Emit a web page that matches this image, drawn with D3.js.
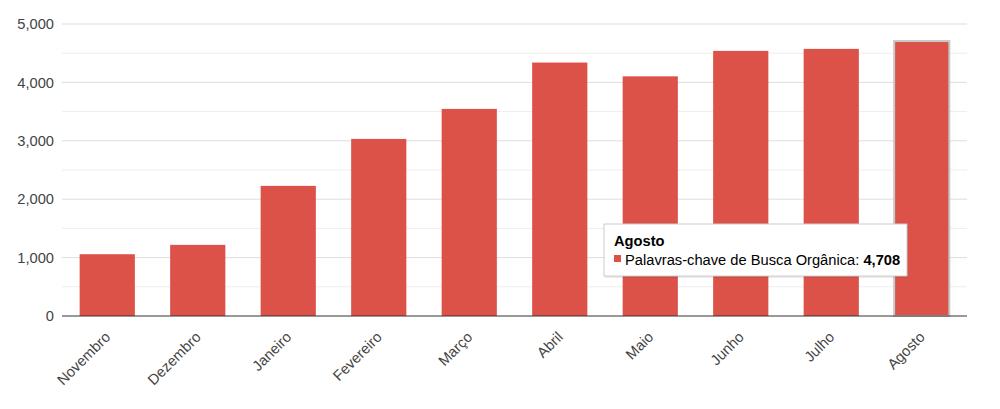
<!DOCTYPE html>
<html><head><meta charset="utf-8">
<script src="https://cdn.jsdelivr.net/npm/d3@7"></script>
<style>
body{margin:0;background:#fff;font-family:"Liberation Sans",Arial,sans-serif;}
</style></head>
<body><svg id="c" width="1000" height="409"></svg>
<script>
const categories = ["Novembro","Dezembro","Janeiro","Fevereiro","Março","Abril","Maio","Junho","Julho","Agosto"];
const values = [1058, 1218, 2228, 3032, 3546, 4340, 4104, 4540, 4574, 4708];
const yTicks = [0, 1000, 2000, 3000, 4000, 5000];
const minorTicks = [500, 1500, 2500, 3500, 4500];
const seriesName = "Palavras-chave de Busca Orgânica";
const highlighted = "Agosto";

const svg = d3.select("#c");
const m = {l:62, r:33, t:24, b:93};
const W = 1000, H = 409;
const FS = 14.7;
const x = d3.scaleBand().domain(categories).range([m.l, W - m.r]).paddingInner(0.39).paddingOuter(0.195);
const y = d3.scaleLinear().domain([0, 5000]).range([H - m.b, m.t]);
const color = "#dc5249";

svg.append("g").selectAll("line.minor").data(minorTicks).join("line")
  .attr("x1", m.l).attr("x2", W - m.r).attr("y1", d => y(d)).attr("y2", d => y(d))
  .attr("stroke", "#eeeeee").attr("stroke-width", 1);
svg.append("g").selectAll("line.major").data(yTicks.filter(d=>d>0)).join("line")
  .attr("x1", m.l).attr("x2", W - m.r).attr("y1", d => y(d)).attr("y2", d => y(d))
  .attr("stroke", "#dddddd").attr("stroke-width", 1);

const yAxis = d3.axisLeft(y).tickValues(yTicks).tickSize(0).tickPadding(8).tickFormat(d3.format(","));
const ga = svg.append("g").attr("transform", `translate(${m.l},0)`).call(yAxis);
ga.select(".domain").remove();
ga.selectAll("text").attr("font-size", FS).attr("fill", "#444").attr("font-family", "Liberation Sans, Arial, sans-serif");

svg.append("g").selectAll("rect").data(categories).join("rect")
  .attr("x", d => x(d)).attr("width", x.bandwidth())
  .attr("y", (d,i) => y(values[i])).attr("height", (d,i) => y(0) - y(values[i]))
  .attr("fill", color)
  .attr("stroke", d => d === highlighted ? "#c8c8c8" : "none")
  .attr("stroke-width", d => d === highlighted ? 2 : 0);

svg.append("line").attr("x1", m.l).attr("x2", W - m.r).attr("y1", y(0)).attr("y2", y(0))
  .attr("stroke", "#333").attr("stroke-width", 1);

const xAxis = d3.axisBottom(x).tickSize(0).tickPadding(0);
const gx = svg.append("g").attr("transform", `translate(0,${y(0)})`).call(xAxis);
gx.select(".domain").remove();
gx.selectAll("text")
  .attr("font-size", FS).attr("fill", "#444").attr("font-family", "Liberation Sans, Arial, sans-serif")
  .attr("text-anchor", "end").attr("dy", null).attr("y", 0)
  .attr("transform", "translate(4,22) rotate(-45)");

// tooltip
const hi = categories.indexOf(highlighted);
const tt = svg.append("g").attr("transform", "translate(604,224)");
tt.append("rect").attr("x", 1).attr("y", 2).attr("width", 303).attr("height", 52).attr("fill", "#000").attr("opacity", 0.08);
tt.append("rect").attr("width", 303).attr("height", 52).attr("fill", "#fff").attr("stroke", "#ccc").attr("stroke-width", 1);
tt.append("text").attr("x", 10).attr("y", 22).attr("font-size", FS).attr("font-weight", "bold").attr("fill", "#000").text(highlighted);
tt.append("rect").attr("x", 10).attr("y", 31).attr("width", 7).attr("height", 7).attr("fill", color);
const t2 = tt.append("text").attr("x", 21).attr("y", 41).attr("font-size", FS).attr("fill", "#000");
t2.append("tspan").text(seriesName + ": ");
t2.append("tspan").attr("font-weight", "bold").text(d3.format(",")(values[hi]));
</script>
</body></html>
